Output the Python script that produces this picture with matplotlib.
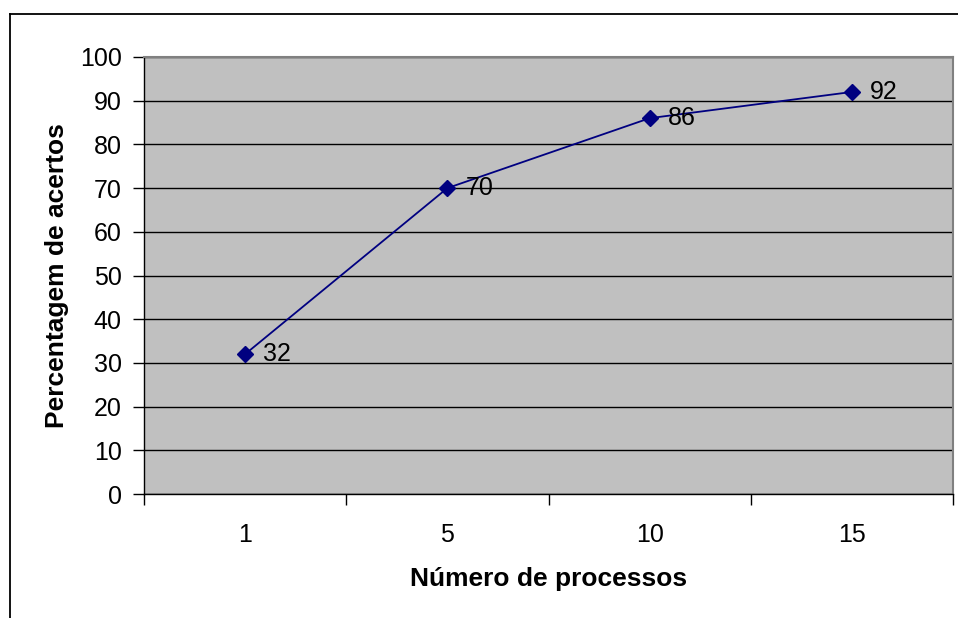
import matplotlib
matplotlib.use("Agg")
import matplotlib.pyplot as plt
from matplotlib.lines import Line2D

# Acertos por número de processos
processos = ["1", "5", "10", "15"]
acertos = [32, 70, 86, 92]

plt.rcParams["font.family"] = ["Liberation Sans", "DejaVu Sans"]

fig = plt.figure(figsize=(9.58, 6.18), dpi=100)
ax = fig.add_axes([144 / 958, 124 / 618, 809 / 958, 437 / 618])
ax.set_facecolor("#C0C0C0")

xs = list(range(len(processos)))
ax.plot(xs, acertos, color="#000080", linewidth=1.3, marker="D",
        markersize=8, markerfacecolor="#000080", markeredgecolor="#000080",
        zorder=3)
for x, v in zip(xs, acertos):
    ax.annotate(str(v), (x, v), xytext=(13, 0), textcoords="offset points",
                ha="left", va="center", fontsize=18, color="black", zorder=4)

ax.set_xlim(-0.5, len(processos) - 0.5)
ax.set_ylim(0, 100)
ax.set_yticks(range(0, 101, 10))
ax.yaxis.grid(True, color="black", linewidth=1)
ax.set_axisbelow(True)

# category labels in the middle, ticks on the boundaries
ax.set_xticks(xs)
ax.set_xticklabels(processos)
ax.tick_params(axis="x", which="major", length=0, pad=21, labelsize=18)
ax.set_xticks([i - 0.5 for i in range(len(processos) + 1)], minor=True)
ax.tick_params(axis="x", which="minor", length=8, width=1, direction="out")
ax.tick_params(axis="y", length=8, width=1, direction="out", pad=8, labelsize=18)

for side in ("top", "right"):
    ax.spines[side].set_color("#808080")
    ax.spines[side].set_linewidth(1.5)
for side in ("left", "bottom"):
    ax.spines[side].set_color("black")
    ax.spines[side].set_linewidth(1)

ax.set_xlabel("Número de processos", fontsize=19, fontweight="bold", labelpad=14)
ax.set_ylabel("Percentagem de acertos", fontsize=19, fontweight="bold", labelpad=8)

# chart frame
fig.add_artist(Line2D([10 / 958, 10 / 958], [0, 604 / 618], color="black", linewidth=1.3))
fig.add_artist(Line2D([10 / 958, 1], [604 / 618, 604 / 618], color="black", linewidth=1.3))

fig.savefig("out.png", dpi=100)
